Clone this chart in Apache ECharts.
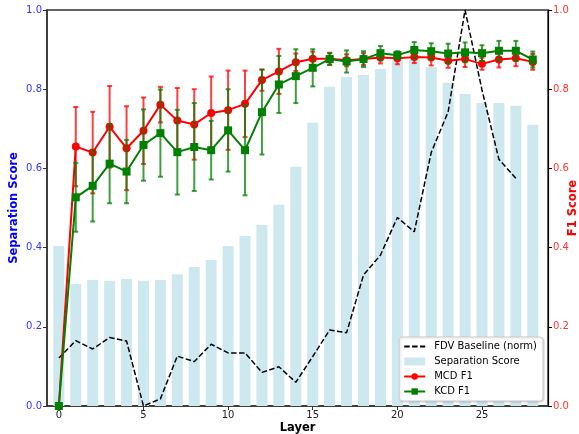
<!DOCTYPE html>
<html>
<head>
<meta charset="utf-8">
<script src="https://cdn.jsdelivr.net/npm/echarts@6/dist/echarts.min.js"></script>
<style>
  html, body { margin: 0; padding: 0; background: #fff; }
  #chart { width: 579px; height: 434px; }
</style>
</head>
<body>
<div id="chart"></div>
<script>
// values
const layers = [0, 1, 2, 3, 4, 5, 6, 7, 8, 9, 10, 11, 12, 13, 14, 15, 16, 17, 18, 19, 20, 21, 22, 23, 24, 25, 26, 27, 28];
const sepScore = [0.404, 0.308, 0.318, 0.316, 0.321, 0.316, 0.318, 0.333, 0.351, 0.369, 0.404, 0.429, 0.457, 0.508, 0.604,
  0.715, 0.806, 0.831, 0.836, 0.851, 0.875, 0.879, 0.856, 0.816, 0.788, 0.765, 0.765, 0.758, 0.710];
const fdvBaseline = [0.121, 0.165, 0.144, 0.173, 0.164, 0.000, 0.018, 0.126, 0.112, 0.156, 0.134, 0.134, 0.085, 0.099,
  0.060, 0.125, 0.192, 0.185, 0.331, 0.381, 0.476, 0.440, 0.640, 0.743, 1.000, 0.798, 0.623, 0.575];
const mcdF1 = [0, 0.655, 0.640, 0.705, 0.651, 0.695, 0.761, 0.721, 0.711, 0.740, 0.747, 0.763, 0.823, 0.845, 0.868,
  0.877, 0.877, 0.873, 0.876, 0.880, 0.878, 0.881, 0.880, 0.872, 0.876, 0.864, 0.875, 0.878, 0.869];
const mcdErr = [0, 0.100, 0.103, 0.103, 0.106, 0.084, 0.045, 0.082, 0.089, 0.092, 0.100, 0.084, 0.027, 0.057, 0.022,
  0.018, 0.015, 0.015, 0.015, 0.015, 0.015, 0.015, 0.020, 0.018, 0.020, 0.015, 0.020, 0.020, 0.020];
const kcdF1 = [0, 0.527, 0.556, 0.612, 0.592, 0.659, 0.689, 0.641, 0.654, 0.646, 0.696, 0.646, 0.742, 0.812, 0.833,
  0.854, 0.876, 0.870, 0.876, 0.891, 0.886, 0.899, 0.896, 0.890, 0.893, 0.891, 0.897, 0.897, 0.875];
const kcdErr = [0, 0.087, 0.090, 0.100, 0.080, 0.090, 0.110, 0.107, 0.111, 0.074, 0.104, 0.114, 0.107, 0.072, 0.068,
  0.047, 0.015, 0.028, 0.020, 0.018, 0.010, 0.020, 0.020, 0.025, 0.025, 0.020, 0.025, 0.025, 0.020];
const xTicks = [0, 5, 10, 15, 20, 25];

const FONT = "DejaVu Sans";

function pairs(ys) {
  return ys.map((y, i) => [layers[i], y]);
}

function errData(ys, errs) {
  return ys.map((y, i) => [layers[i], y, errs[i]]);
}

function errorBars(color) {
  return function (params, api) {
    const x = api.value(0), y = api.value(1), e = api.value(2);
    if (!e) return null;
    const top = api.coord([x, y + e]);
    const bot = api.coord([x, y - e]);
    const style = { stroke: color, lineWidth: 2, opacity: 0.75 };
    return {
      type: "group",
      children: [
        { type: "line", shape: { x1: top[0], y1: top[1], x2: bot[0], y2: bot[1] }, style },
        { type: "line", shape: { x1: top[0] - 2.5, y1: top[1], x2: top[0] + 2.5, y2: top[1] }, style },
        { type: "line", shape: { x1: bot[0] - 2.5, y1: bot[1], x2: bot[0] + 2.5, y2: bot[1] }, style },
      ],
    };
  };
}

const chart = echarts.init(document.getElementById("chart"), null, { renderer: "canvas" });

const option = {
  animation: false,
  textStyle: { fontFamily: FONT },
  grid: {
    left: 47, right: 31, top: 10, bottom: 28,
    outerBoundsMode: "none",
    containLabel: false,
    show: true, borderColor: "#333", borderWidth: 1.5,
  },
  legend: {
    data: [
      { name: "FDV Baseline (norm)", itemStyle: { opacity: 0 } },
      { name: "Separation Score", icon: "rect" },
      { name: "MCD F1" },
      { name: "KCD F1" },
    ],
    orient: "vertical",
    right: 36,
    bottom: 33,
    itemWidth: 21,
    itemHeight: 8,
    itemGap: 4,
    padding: [4, 6, 4, 4],
    backgroundColor: "#fff",
    borderColor: "#cccccc",
    borderWidth: 1,
    borderRadius: 3,
    shadowColor: "rgba(0,0,0,0.15)",
    shadowBlur: 2,
    shadowOffsetX: 1,
    shadowOffsetY: 1,
    textStyle: { fontFamily: FONT, fontSize: 10, lineHeight: 11, color: "#000", padding: [0, 0, 0, 4] },
  },
  xAxis: {
    type: "value",
    min: -0.7,
    max: 28.9,
    name: "Layer",
    nameLocation: "middle",
    nameGap: 16,
    nameMoveOverlap: false,
    nameTextStyle: { fontFamily: FONT, fontSize: 11.5, fontWeight: "bold", color: "#000" },
    splitLine: { show: false },
    axisLine: { onZero: false, lineStyle: { color: "#333", width: 1.5 } },
    axisTick: { length: 4, lineStyle: { color: "#333" }, customValues: xTicks },
    axisLabel: { fontFamily: FONT, fontSize: 10, color: "#222", margin: 4, customValues: xTicks },
  },
  yAxis: [
    {
      type: "value",
      min: 0, max: 1, interval: 0.2,
      name: "Separation Score",
      nameLocation: "middle",
      nameGap: 27,
      nameMoveOverlap: false,
      nameTextStyle: { fontFamily: FONT, fontSize: 11.5, fontWeight: "bold", color: "#0000ff" },
      splitLine: { show: false },
      axisLine: { show: true, onZero: false, lineStyle: { color: "#333", width: 1.5 } },
      axisTick: { show: true, length: 4, lineStyle: { color: "#333" } },
      axisLabel: { fontFamily: FONT, fontSize: 10, color: "#3333ff", margin: 5, formatter: (v) => v.toFixed(1) },
    },
    {
      type: "value",
      min: 0, max: 1, interval: 0.2,
      position: "right",
      name: "F1 Score",
      nameLocation: "middle",
      nameGap: 19,
      nameRotate: 90,
      nameMoveOverlap: false,
      nameTextStyle: { fontFamily: FONT, fontSize: 11.5, fontWeight: "bold", color: "#ff0000" },
      splitLine: { show: false },
      axisLine: { show: true, onZero: false, lineStyle: { color: "#000", width: 1.2 } },
      axisTick: { show: true, length: 4, lineStyle: { color: "#000" } },
      axisLabel: { fontFamily: FONT, fontSize: 10, color: "#ff3333", margin: 5, formatter: (v) => v.toFixed(1) },
    },
  ],
  series: [
    {
      name: "Separation Score",
      type: "bar",
      yAxisIndex: 0,
      data: pairs(sepScore),
      barWidth: 11,
      itemStyle: { color: "#cee8f0" },
      z: 1,
    },
    {
      name: "FDV Baseline (norm)",
      type: "line",
      yAxisIndex: 0,
      data: pairs(fdvBaseline),
      symbol: "none",
      lineStyle: { color: "#000", width: 1.5, type: [5.5, 2.4] },
      itemStyle: { color: "#000" },
      z: 2,
    },
    {
      name: "MCD err",
      type: "custom",
      yAxisIndex: 1,
      data: errData(mcdF1, mcdErr),
      renderItem: errorBars("#ff0000"),
      encode: { x: 0, y: 1 },
      z: 3,
    },
    {
      name: "MCD F1",
      type: "line",
      yAxisIndex: 1,
      data: pairs(mcdF1),
      symbol: "circle",
      symbolSize: 8,
      lineStyle: { color: "#ff0000", width: 2 },
      itemStyle: { color: "#ff0000" },
      z: 4,
    },
    {
      name: "KCD err",
      type: "custom",
      yAxisIndex: 1,
      data: errData(kcdF1, kcdErr),
      renderItem: errorBars("#008000"),
      encode: { x: 0, y: 1 },
      z: 5,
    },
    {
      name: "KCD F1",
      type: "line",
      yAxisIndex: 1,
      data: pairs(kcdF1),
      symbol: "rect",
      symbolSize: 8,
      lineStyle: { color: "#008000", width: 2 },
      itemStyle: { color: "#008000" },
      z: 6,
    },
  ],
};

chart.setOption(option);
</script>
</body>
</html>
